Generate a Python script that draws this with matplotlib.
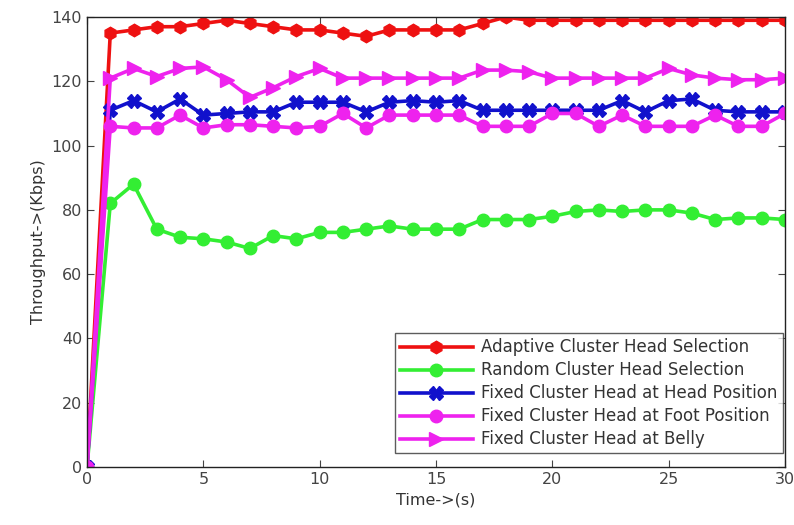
import matplotlib.pyplot as plt
import numpy as np

# 时间轴 (s)
t = np.arange(0, 31)

# 各方案吞吐量 (Kbps)
adaptive = [0, 135, 136, 137, 137, 138, 139, 138, 137, 136, 136, 135, 134, 136, 136, 136,
            136, 138, 140, 139, 139, 139, 139, 139, 139, 139, 139, 139, 139, 139, 139]
random_ch = [0, 82, 88, 74, 71.5, 71, 70, 68, 72, 71, 73, 73, 74, 75, 74, 74,
             74, 77, 77, 77, 78, 79.5, 80, 79.5, 80, 80, 79, 77, 77.5, 77.5, 77]
head_pos = [0, 111, 114, 110.5, 114.5, 109.5, 110, 110.5, 110.5, 113.5, 113.5, 113.5, 110.5, 113.5, 114, 113.5,
            114, 111, 111, 111, 111, 111, 111, 114, 110.5, 114, 114.5, 111, 110.5, 110.5, 110.5]
foot_pos = [0, 106, 105.5, 105.5, 109.5, 105.5, 106.5, 106.5, 106, 105.5, 106, 110, 105.5, 109.5, 109.5, 109.5,
            109.5, 106, 106, 106, 110, 110, 106, 109.5, 106, 106, 106, 109.5, 106, 106, 110]
belly = [0, 121, 124, 121.5, 124, 124.5, 120.5, 115, 118, 121.5, 124, 121, 121, 121, 121, 121,
         121, 123.5, 123.5, 123, 121, 121, 121, 121, 121, 124, 122, 121, 120.5, 120.5, 121]

labels = ['Adaptive Cluster Head Selection',
          'Random Cluster Head Selection',
          'Fixed Cluster Head at Head Position',
          'Fixed Cluster Head at Foot Position',
          'Fixed Cluster Head at Belly']

fig = plt.figure(figsize=(7.94, 5.25), dpi=100)
ax = fig.add_axes([0.1096, 0.1105, 0.879, 0.857])

ax.plot(t, adaptive, color='#ee1111', lw=2.6, marker='h', ms=9, label=labels[0])
ax.plot(t, random_ch, color='#33ee33', lw=2.6, marker='o', ms=9, label=labels[1])
ax.plot(t, head_pos, color='#1111cc', lw=2.6, marker='X', ms=10, label=labels[2])
ax.plot(t, foot_pos, color='#ee22ee', lw=2.6, marker='o', ms=9, label=labels[3])
ax.plot(t, belly, color='#ee22ee', lw=2.6, marker='>', ms=10, label=labels[4])

ax.set_xlim(0, 30)
ax.set_ylim(0, 140)
ax.set_xticks(np.arange(0, 31, 5))
ax.set_yticks(np.arange(0, 141, 20))
ax.tick_params(direction='in', top=True, right=True, labelsize=11.5, colors='#444444', length=5)
for s in ax.spines.values():
    s.set_color('#222222')
    s.set_linewidth(1)

ax.set_xlabel('Time->(s)', fontsize=11.5, color='#333333')
ax.set_ylabel('Throughput->(Kbps)', fontsize=11.5, color='#333333')

leg = ax.legend(loc='lower right', fontsize=12, frameon=True, fancybox=False,
                edgecolor='#333333', handlelength=4.4, borderpad=0.3,
                labelspacing=0.3, handletextpad=0.5, borderaxespad=0,
                bbox_to_anchor=(0.997, 0.03))
for txt in leg.get_texts():
    txt.set_color('#333333')

plt.savefig('out.png', dpi=100)
